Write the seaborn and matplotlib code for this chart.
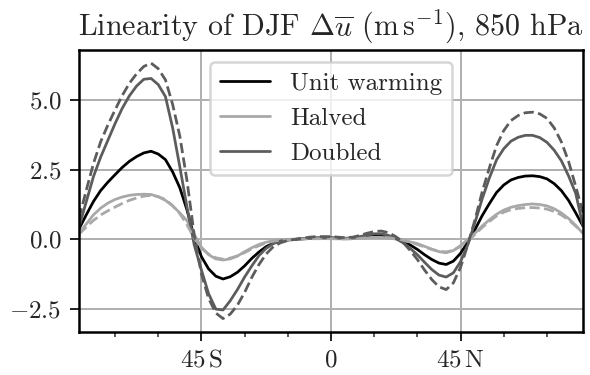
import numpy as np
import pandas as pd
import seaborn as sns
import matplotlib.pyplot as plt
from matplotlib.ticker import MultipleLocator

# latitude grid (deg), 2.5 deg spacing
lat = np.arange(-87.5, 87.6, 2.5)

# DJF 850 hPa zonal-mean wind response (m/s)
unit_warming = [
    0.38, 0.88, 1.36, 1.75, 2.05, 2.32, 2.58, 2.80, 2.97, 3.10,
    3.16, 3.06, 2.86, 2.42, 1.85, 1.05, 0.08, -0.62, -1.06, -1.32,
    -1.42, -1.34, -1.18, -0.95, -0.68, -0.45, -0.26, -0.13, -0.06, -0.02,
    0.00, 0.02, 0.04, 0.05, 0.05, 0.05, 0.04, 0.03, 0.04, 0.07,
    0.11, 0.14, 0.15, 0.12, 0.05, -0.05, -0.20, -0.36, -0.55, -0.72,
    -0.85, -0.90, -0.78, -0.50, -0.10, 0.35, 0.85, 1.28, 1.68, 1.95,
    2.13, 2.22, 2.27, 2.28, 2.25, 2.17, 2.00, 1.75, 1.40, 0.95,
    0.48,
]
halved = [
    0.22, 0.55, 0.88, 1.12, 1.30, 1.43, 1.52, 1.58, 1.61, 1.62,
    1.61, 1.53, 1.40, 1.20, 0.95, 0.67, 0.18, -0.28, -0.55, -0.70,
    -0.74, -0.70, -0.60, -0.44, -0.30, -0.18, -0.10, -0.05, -0.02, 0.00,
    0.01, 0.02, 0.03, 0.03, 0.03, 0.03, 0.02, 0.02, 0.03, 0.04,
    0.06, 0.07, 0.07, 0.05, 0.01, -0.04, -0.09, -0.15, -0.25, -0.35,
    -0.44, -0.48, -0.40, -0.22, 0.00, 0.22, 0.48, 0.70, 0.90, 1.05,
    1.15, 1.21, 1.25, 1.27, 1.25, 1.20, 1.10, 0.95, 0.75, 0.50,
    0.22,
]
doubled = [
    0.45, 1.35, 2.25, 2.95, 3.55, 4.15, 4.70, 5.15, 5.50, 5.74,
    5.77, 5.55, 5.12, 4.00, 2.60, 1.15, -0.20, -1.10, -1.95, -2.50,
    -2.53, -2.20, -1.80, -1.35, -0.95, -0.58, -0.32, -0.15, -0.06, -0.02,
    0.00, 0.02, 0.04, 0.05, 0.06, 0.06, 0.05, 0.04, 0.06, 0.10,
    0.15, 0.20, 0.20, 0.14, 0.03, -0.12, -0.32, -0.55, -0.82, -1.08,
    -1.28, -1.35, -1.20, -0.80, -0.20, 0.60, 1.45, 2.20, 2.85, 3.25,
    3.52, 3.66, 3.73, 3.73, 3.65, 3.48, 3.20, 2.82, 2.28, 1.65,
    0.50,
]

labels = ["Unit warming", "Halved", "Doubled"]
colors = ["black", "#a8a8a8", "#5c5c5c"]
scales = [1.0, 0.5, 2.0]

df = pd.DataFrame({"lat": lat, labels[0]: unit_warming,
                   labels[1]: halved, labels[2]: doubled})

sns.set_style("ticks", {"axes.grid": True, "grid.color": "#b0b0b0"})
plt.rcParams["font.family"] = "cmr10"
plt.rcParams["mathtext.fontset"] = "cm"
plt.rcParams["axes.formatter.use_mathtext"] = True
plt.rcParams["axes.unicode_minus"] = True

fig = plt.figure(figsize=(590 / 180, 375 / 180), dpi=180)
ax = fig.add_axes([0.134, 0.1147, 0.854, 0.752])

# actual responses
for name, c in zip(labels, colors):
    sns.lineplot(data=df, x="lat", y=name, color=c, lw=1.1, label=name, ax=ax)

# linear scaling of the unit response (dashed)
for name, c, s in zip(labels[1:], colors[1:], scales[1:]):
    scaled = df[labels[0]] * s
    sns.lineplot(x=df["lat"], y=scaled, color=c, lw=1.1, ls="--", ax=ax)

ax.set_xlim(-87.5, 87.5)
ax.set_ylim(-3.32, 6.79)
ax.set_xticks([-45, 0, 45])
ax.set_xticklabels([r"$45\,\mathrm{S}$", r"$0$", r"$45\,\mathrm{N}$"])
ax.xaxis.set_minor_locator(MultipleLocator(15))
ax.yaxis.set_major_locator(MultipleLocator(2.5))
ax.tick_params(axis="both", which="major", labelsize=10, length=3.5, width=0.8)
ax.tick_params(axis="x", which="minor", length=2, width=0.6)
ax.grid(True, which="major", color="#b0b0b0", lw=0.8)
ax.set_xlabel("")
ax.set_ylabel("")
for sp in ax.spines.values():
    sp.set_visible(True)
    sp.set_color("black")
    sp.set_linewidth(1.0)

ax.set_title(r"Linearity of DJF $\Delta\overline{u}$ $(\mathrm{m\,s^{-1}})$, 850 hPa",
             fontsize=12, pad=6)
ax.legend(loc="upper center", fontsize=10, framealpha=0.8)

fig.savefig("out.png", dpi=180)
